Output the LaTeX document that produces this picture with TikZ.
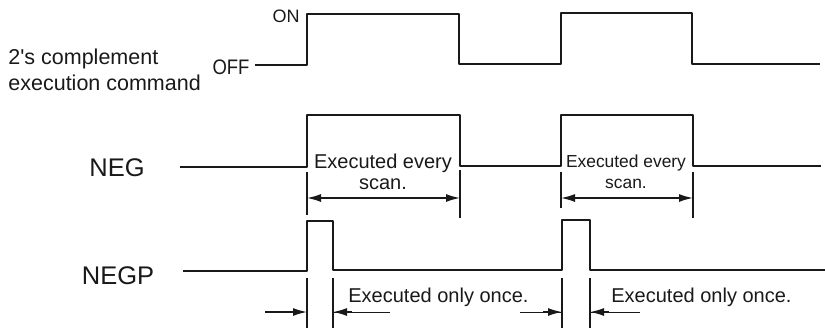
\documentclass[tikz,border=0pt]{standalone}
\usepackage{fontspec}
\setmainfont{Liberation Sans}
\usetikzlibrary{arrows.meta, positioning}
\definecolor{sigink}{RGB}{25,25,25}
\tikzset{
  signal/.style={line width=1.1pt, color=sigink, line join=round},
  extline/.style={line width=0.6pt, color=sigink},
  thinline/.style={line width=0.35pt, color=sigink},
  dimboth/.style={line width=0.7pt, color=sigink,
    {Latex[length=7pt,width=4pt]}-{Latex[length=7pt,width=4pt]}},
  dimtip/.style={line width=0.7pt, color=sigink, -{Latex[length=7pt,width=4pt]}},
  siglabel/.style={font=\fontsize{12.75}{15}\selectfont, inner sep=0pt, text=sigink},
  cmdlabel/.style={font=\fontsize{10.75}{13}\selectfont, inner sep=0pt, align=left, text=sigink},
  levlabel/.style={font=\fontsize{9}{10}\selectfont, inner sep=0pt, text=sigink},
  note/.style={font=\fontsize{10}{10.5}\selectfont, inner sep=0pt, align=center, text=sigink}
}
\begin{document}
\begin{tikzpicture}[x=0.5pt, y=-0.5pt]
  \useasboundingbox (0,0) rectangle (825,328);

  % signal names
  \node[cmdlabel, anchor=west] (cmd) at (8,70) {2\textquotesingle s complement\\execution command};
  \node[siglabel] (neg) at (117,168) {NEG};
  \node[siglabel] (negp) at (118,276) {NEGP};
  \node[levlabel] (on) at (286,16) {ON};
  \node[levlabel, font=\fontsize{10.5}{11}\selectfont] (off) at (231,67) {\scalebox{0.88}[1]{OFF}};

  % waveforms
  \draw[signal] (255,65) -- (307,65) -- (307,14) -- (459,14) -- (459,64)
    -- (561,64) -- (561,13) -- (692,13) -- (692,64) -- (820,64);
  \draw[signal] (180,167) -- (307,167) -- (307,115) -- (460,115) -- (460,166)
    -- (561,166) -- (561,115) -- (693,115) -- (693,166) -- (821,166);
  \draw[signal] (183,271) -- (307,271) -- (307,221) -- (333,221) -- (333,270)
    -- (562,270) -- (562,220) -- (590,220) -- (590,270) -- (825,270);

  % NEG: executed every scan
  \draw[extline] (307,172) -- (307,215);
  \draw[extline] (460,170) -- (460,218);
  \draw[extline] (561,172) -- (561,208);
  \draw[extline] (693,172) -- (693,218);
  \coordinate (scanAl) at (307,198);
  \coordinate (scanAr) at (460,198);
  \coordinate (scanBl) at (561,198);
  \coordinate (scanBr) at (693,198);
  \draw[dimboth] (scanAl) -- (scanAr);
  \draw[dimboth] (scanBl) -- (scanBr);
  \node[note] (everyA) at (383,172) {Executed every\\scan.};
  \node[note, font=\fontsize{8.7}{10.5}\selectfont] (everyB) at (626,172) {Executed every\\scan.};

  % NEGP: executed only once
  \foreach \xe in {307,333,562,590}
    \draw[extline] (\xe,278) -- (\xe,328);
  \coordinate (onceAl) at (265,312);
  \coordinate (onceAa) at (307,312);
  \coordinate (onceAb) at (333,312);
  \coordinate (onceAm) at (352,312);
  \coordinate (onceAr) at (390,312);
  \draw[dimtip] (onceAl) -- (onceAa);
  \draw[thinline] (onceAb) -- (onceAr);
  \draw[dimtip] (onceAm) -- (onceAb);
  \coordinate (onceBl) at (520,312);
  \coordinate (onceBm) at (543,312);
  \coordinate (onceBa) at (562,312);
  \coordinate (onceBb) at (590,312);
  \coordinate (onceBn) at (609,312);
  \coordinate (onceBr) at (640,312);
  \draw[thinline] (onceBl) -- (onceBa);
  \draw[dimtip] (onceBm) -- (onceBa);
  \draw[thinline] (onceBb) -- (onceBr);
  \draw[dimtip] (onceBn) -- (onceBb);
  \node[note, anchor=west] (onceA) at (348,297) {Executed only once.};
  \node[note, anchor=west] (onceB) at (611,297) {Executed only once.};
\end{tikzpicture}
\end{document}
